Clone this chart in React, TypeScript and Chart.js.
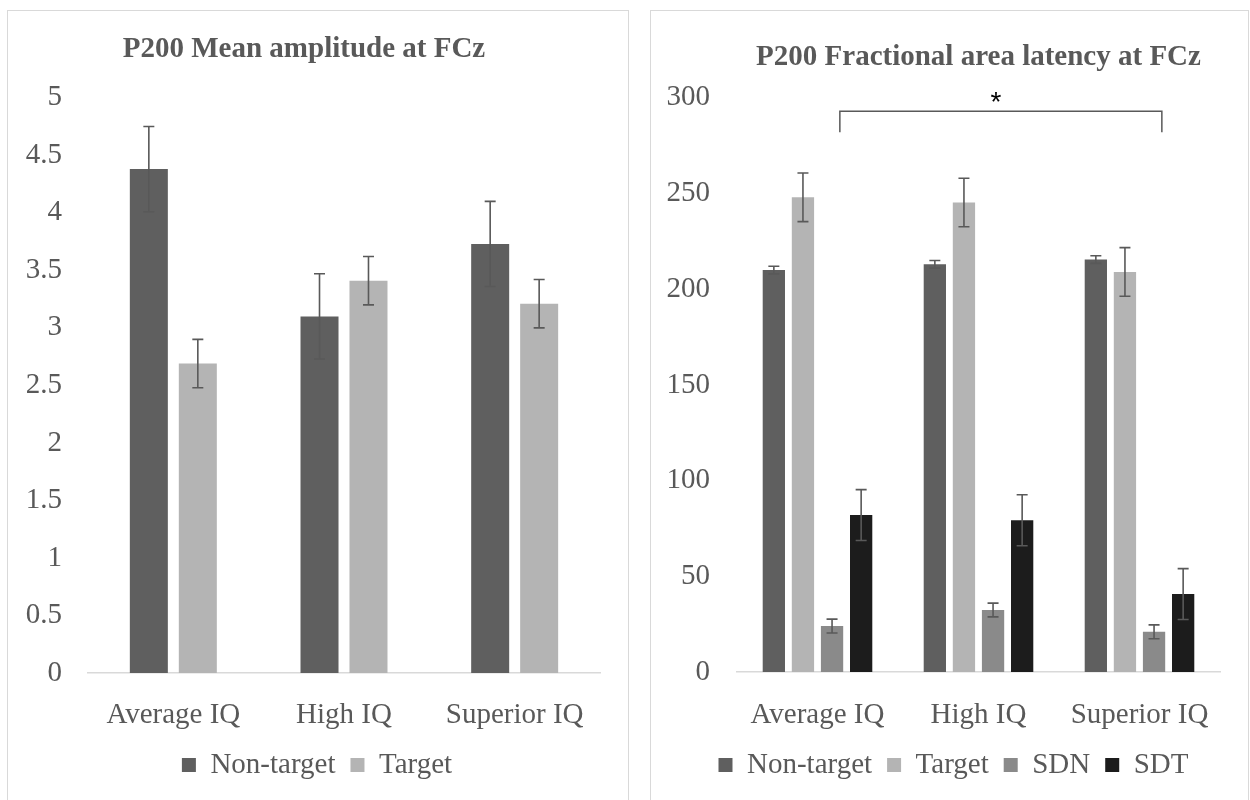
import React, { useEffect, useRef } from 'react';
import { Chart, registerables } from 'chart.js';

Chart.register(...registerables);

// Groups on the x axis
const groups = ['Average IQ', 'High IQ', 'Superior IQ'];

// P200 mean amplitude at FCz (means and error half-widths)
const ampNonTarget = [4.38, 3.1, 3.73];
const ampNonTargetErr = [0.37, 0.37, 0.37];
const ampTarget = [2.69, 3.41, 3.21];
const ampTargetErr = [0.21, 0.21, 0.21];
const ampTicks = { min: 0, max: 5, step: 0.5 };

// P200 fractional area latency at FCz
const latNonTarget = [210, 213, 215.5];
const latNonTargetErr = [2, 2, 2];
const latTarget = [248, 245.3, 209];
const latTargetErr = [12.7, 12.7, 12.7];
const latSDN = [24, 32.4, 21];
const latSDNErr = [3.6, 3.6, 3.6];
const latSDT = [82, 79.3, 40.7];
const latSDTErr = [13.3, 13.3, 13.3];
const latTicks = { min: 0, max: 300, step: 50 };

// significance bracket: between groups, on the SDN series
const bracketGroups = [0, 2];
const bracketValues = [293, 282];
const bracketLabel = '*';

const SERIF = "'Liberation Serif', 'Times New Roman', serif";
const TEXT = '#595959';

const errorBars = {
  id: 'errorBars',
  afterDatasetsDraw(chart: any) {
    const { ctx } = chart;
    const y = chart.scales.y;
    chart.data.datasets.forEach((ds: any, di: number) => {
      if (!ds.errors) return;
      const meta = chart.getDatasetMeta(di);
      meta.data.forEach((bar: any, i: number) => {
        const v = ds.data[i];
        const e = ds.errors[i];
        const top = y.getPixelForValue(v + e);
        const bot = y.getPixelForValue(v - e);
        ctx.save();
        ctx.strokeStyle = TEXT;
        ctx.lineWidth = 1.6;
        ctx.beginPath();
        ctx.moveTo(bar.x, top);
        ctx.lineTo(bar.x, bot);
        ctx.moveTo(bar.x - 5.5, top);
        ctx.lineTo(bar.x + 5.5, top);
        ctx.moveTo(bar.x - 5.5, bot);
        ctx.lineTo(bar.x + 5.5, bot);
        ctx.stroke();
        ctx.restore();
      });
    });
  },
};

const sigBracket = {
  id: 'sigBracket',
  afterDatasetsDraw(chart: any, _args: any, opts: any) {
    if (!opts || !opts.show) return;
    const { ctx } = chart;
    const meta = chart.getDatasetMeta(opts.dataset);
    const a = meta.data[opts.groups[0]];
    const b = meta.data[opts.groups[1]];
    const x1 = a.x + a.width * 0.35;
    const x2 = b.x + b.width * 0.35;
    const y = chart.scales.y;
    const yTop = y.getPixelForValue(opts.values[0]);
    const yBot = y.getPixelForValue(opts.values[1]);
    ctx.save();
    ctx.strokeStyle = TEXT;
    ctx.lineWidth = 1.5;
    ctx.beginPath();
    ctx.moveTo(x1, yBot);
    ctx.lineTo(x1, yTop);
    ctx.lineTo(x2, yTop);
    ctx.lineTo(x2, yBot);
    ctx.stroke();
    ctx.fillStyle = '#000';
    ctx.font = "28px 'Liberation Sans', Arial, sans-serif";
    ctx.textAlign = 'center';
    ctx.textBaseline = 'alphabetic';
    ctx.fillText(opts.label, (x1 + x2) / 2 - 5, yTop);
    ctx.restore();
  },
};

// nudge the legend sideways after layout (it sits a little right of centre)
const legendShift = {
  id: 'legendShift',
  afterLayout(chart: any, _args: any, opts: any) {
    const l = chart.legend;
    if (!l || !opts || !opts.dx) return;
    l.left += opts.dx;
    l.right += opts.dx;
  },
};

function makeConfig(p: {
  title: string;
  datasets: any[];
  ticks: { min: number; max: number; step: number };
  yWidth: number;
  xHeight: number;
  xPad: number;
  yPad: number;
  titlePad: { top: number; bottom: number };
  titleFull: boolean;
  catPct: number;
  barPct: number;
  legendDx: number;
  bracket?: any;
}): any {
  const font = { family: SERIF, size: 29 };
  return {
    type: 'bar',
    data: {
      labels: groups,
      datasets: p.datasets.map((d) => ({
        ...d,
        borderWidth: 0,
        categoryPercentage: p.catPct,
        barPercentage: p.barPct,
      })),
    },
    options: {
      responsive: false,
      animation: false,
      layout: { padding: { left: 0, right: 28, top: 0, bottom: 11.5 } },
      plugins: {
        title: {
          display: true,
          text: p.title,
          color: TEXT,
          font: { family: SERIF, size: 29, weight: 'bold' },
          padding: p.titlePad,
          fullSize: p.titleFull,
        },
        legend: {
          position: 'bottom',
          labels: {
            color: TEXT,
            font,
            boxWidth: 14,
            boxHeight: 14,
            padding: 15,
          },
        },
        tooltip: { enabled: false },
        sigBracket: p.bracket || { show: false },
        legendShift: { dx: p.legendDx },
      },
      scales: {
        x: {
          grid: { display: false },
          border: { display: true, color: '#d9d9d9', width: 1.5 },
          ticks: { color: TEXT, font, padding: p.xPad, maxRotation: 0, autoSkip: false },
          afterFit: (s: any) => {
            s.height = p.xHeight;
          },
        },
        y: {
          min: p.ticks.min,
          max: p.ticks.max,
          grid: { display: false },
          border: { display: false },
          ticks: {
            stepSize: p.ticks.step,
            color: TEXT,
            font,
            padding: p.yPad,
            callback: (v: any) => String(Math.round(v * 100) / 100),
          },
          afterFit: (s: any) => {
            s.width = p.yWidth;
          },
        },
      },
    },
    plugins: [errorBars, sigBracket, legendShift],
  };
}

function Panel({ left, width, config }: { left: number; width: number; config: any }) {
  const ref = useRef<HTMLCanvasElement>(null);
  useEffect(() => {
    if (!ref.current) return;
    const chart = new Chart(ref.current, config);
    return () => chart.destroy();
  }, []);
  return (
    <div
      style={{
        position: 'absolute',
        left,
        top: 10,
        width,
        height: 800,
        border: '1px solid #d9d9d9',
        boxSizing: 'border-box',
        background: '#fff',
      }}
    >
      <canvas ref={ref} width={width - 2} height={790} style={{ display: 'block' }} />
    </div>
  );
}

export default function App() {
  const ampConfig = makeConfig({
    title: 'P200 Mean amplitude at FCz',
    datasets: [
      { label: 'Non-target', data: ampNonTarget, errors: ampNonTargetErr, backgroundColor: '#5f5f5f' },
      { label: 'Target', data: ampTarget, errors: ampTargetErr, backgroundColor: '#b4b4b4' },
    ],
    ticks: ampTicks,
    yWidth: 80,
    xHeight: 62.5,
    xPad: 17,
    yPad: 18,
    titlePad: { top: 21, bottom: 31 },
    titleFull: true,
    catPct: 0.574,
    barPct: 0.776,
    legendDx: 13,
  });

  const latConfig = makeConfig({
    title: 'P200 Fractional area latency at FCz',
    datasets: [
      { label: 'Non-target', data: latNonTarget, errors: latNonTargetErr, backgroundColor: '#5f5f5f' },
      { label: 'Target', data: latTarget, errors: latTargetErr, backgroundColor: '#b4b4b4' },
      { label: 'SDN', data: latSDN, errors: latSDNErr, backgroundColor: '#8a8a8a' },
      { label: 'SDT', data: latSDT, errors: latSDTErr, backgroundColor: '#1c1c1c' },
    ],
    ticks: latTicks,
    yWidth: 86,
    xHeight: 63.5,
    xPad: 18,
    yPad: 19,
    titlePad: { top: 29, bottom: 23 },
    titleFull: false,
    catPct: 0.723,
    barPct: 0.766,
    legendDx: 18,
    bracket: { show: true, dataset: 2, groups: bracketGroups, values: bracketValues, label: bracketLabel },
  });

  return (
    <div style={{ position: 'absolute', left: 0, top: 0, width: 1250, height: 800, overflow: 'hidden', background: '#fff' }}>
      <Panel left={7} width={622} config={ampConfig} />
      <Panel left={650} width={599} config={latConfig} />
    </div>
  );
}
